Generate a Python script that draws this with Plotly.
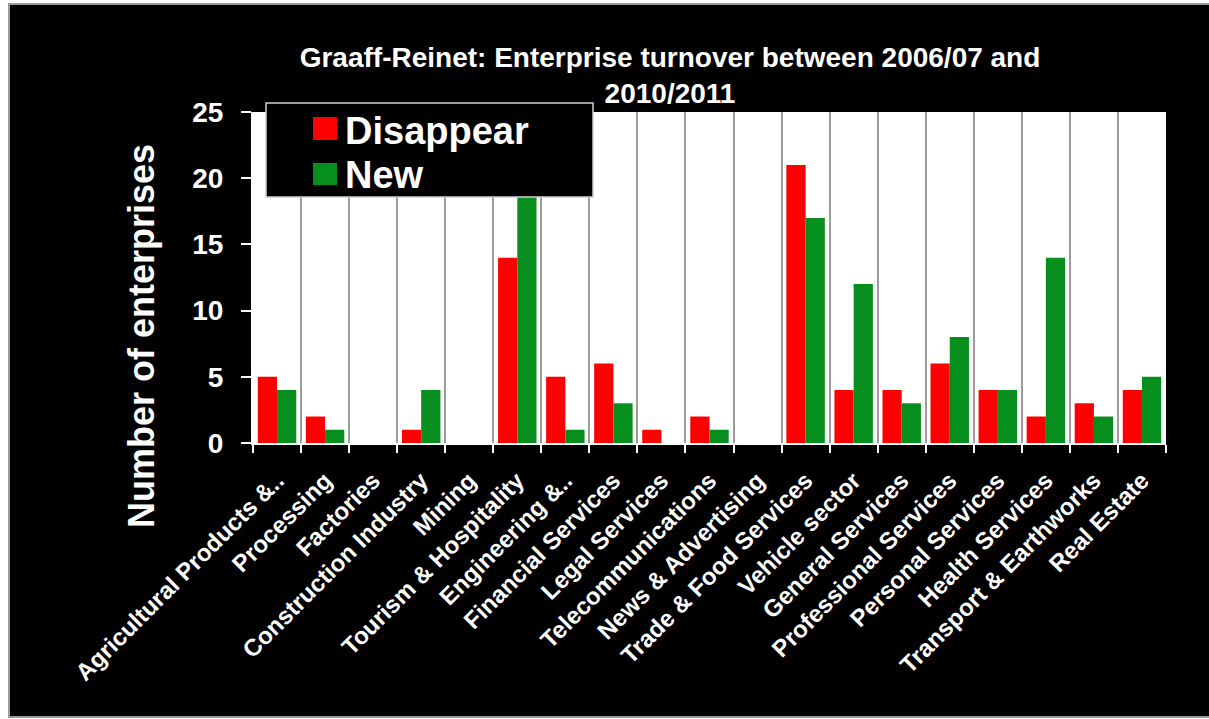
import plotly.graph_objects as go

# Enterprise counts per sector, Graaff-Reinet 2006/07 vs 2010/2011
sectors = [
    "Agricultural Products &..", "Processing", "Factories", "Construction Industry",
    "Mining", "Tourism & Hospitality", "Engineering &..", "Financial Services",
    "Legal Services", "Telecommunications", "News & Advertising",
    "Trade & Food Services", "Vehicle sector", "General Services",
    "Professional Services", "Personal Services", "Health Services",
    "Transport & Earthworks", "Real Estate",
]
disappear = [5, 2, 0, 1, 0, 14, 5, 6, 1, 2, 0, 21, 4, 4, 6, 4, 2, 3, 4]
new = [4, 1, 0, 4, 0, 19, 1, 3, 0, 1, 0, 17, 12, 3, 8, 4, 14, 2, 5]
y_ticks = [0, 5, 10, 15, 20, 25]

RED = "#ff0000"
GREEN = "#078f1d"
FONT = "Liberation Sans, Arial, sans-serif"

W, H = 1209, 719
L, R, T, B = 253, 43, 112, 276
PW, PH = W - L - R, H - T - B


def px(x):
    return (x - L) / PW


def py(y):
    return (H - B - y) / PH


fig = go.Figure()
fig.add_trace(go.Bar(name="Disappear", x=sectors, y=disappear,
                     marker=dict(color=RED, line=dict(width=0))))
fig.add_trace(go.Bar(name="New", x=sectors, y=new,
                     marker=dict(color=GREEN, line=dict(width=0))))

shapes = [
    # black card behind the whole chart
    dict(type="rect", xref="paper", yref="paper", layer="below",
         x0=px(9), x1=px(W + 4), y0=py(H - 2), y1=py(4),
         fillcolor="black", line=dict(color="#9a9a9a", width=2)),
    # white plotting area
    dict(type="rect", xref="paper", yref="paper", layer="below",
         x0=0, x1=1, y0=0, y1=1, fillcolor="white", line=dict(width=0)),
    # legend box
    dict(type="rect", xref="paper", yref="paper", layer="above",
         x0=px(266), x1=px(593), y0=py(197), y1=py(103),
         fillcolor="black", line=dict(color="#cfcfcf", width=1.5)),
    dict(type="rect", xref="paper", yref="paper", layer="above",
         x0=px(313), x1=px(337), y0=py(140), y1=py(117),
         fillcolor=RED, line=dict(width=0)),
    dict(type="rect", xref="paper", yref="paper", layer="above",
         x0=px(313), x1=px(337), y0=py(185), y1=py(163),
         fillcolor=GREEN, line=dict(width=0)),
]

annotations = [
    dict(text="Disappear", xref="paper", yref="paper", x=px(343), y=py(131),
         xanchor="left", yanchor="middle", showarrow=False,
         font=dict(family=FONT, size=38, color="white", weight="bold")),
    dict(text="New", xref="paper", yref="paper", x=px(343), y=py(175),
         xanchor="left", yanchor="middle", showarrow=False,
         font=dict(family=FONT, size=38, color="white", weight="bold")),
    dict(text="Number of enterprises", xref="paper", yref="paper",
         x=px(141), y=py(336), xanchor="center", yanchor="middle",
         textangle=-90, showarrow=False,
         font=dict(family=FONT, size=36, color="white", weight="bold")),
]

fig.update_layout(
    width=W, height=H,
    margin=dict(l=L, r=R, t=T, b=B, autoexpand=False),
    paper_bgcolor="white",
    plot_bgcolor="rgba(0,0,0,0)",
    barmode="group", bargap=0.2, bargroupgap=0,
    showlegend=False,
    title=dict(
        text="Graaff-Reinet: Enterprise turnover between 2006/07 and<br>2010/2011",
        xref="container", yref="container", x=670 / W, xanchor="center",
        y=1 - 67 / H, yanchor="top",
        font=dict(family=FONT, size=28, color="white", weight="bold"),
    ),
    shapes=shapes,
    annotations=annotations,
)

fig.update_xaxes(
    type="category", tickson="boundaries",
    showgrid=True, gridcolor="#9c9c9c", gridwidth=1.5,
    showline=True, linecolor="white", linewidth=2,
    ticks="outside", ticklen=8, tickcolor="white", tickwidth=2,
    tickangle=-45, automargin=False, ticklabelstandoff=12,
    tickfont=dict(family=FONT, size=24, color="white", weight="bold"),
)
fig.update_yaxes(
    range=[0, 25], tickvals=y_ticks, ticktext=[str(v) for v in y_ticks],
    showgrid=False, zeroline=False,
    showline=True, linecolor="white", linewidth=2,
    ticks="outside", ticklen=10, tickcolor="white", tickwidth=2,
    ticklabelstandoff=12, automargin=False,
    tickfont=dict(family=FONT, size=28, color="white", weight="bold"),
)

fig.write_html("out.html")
